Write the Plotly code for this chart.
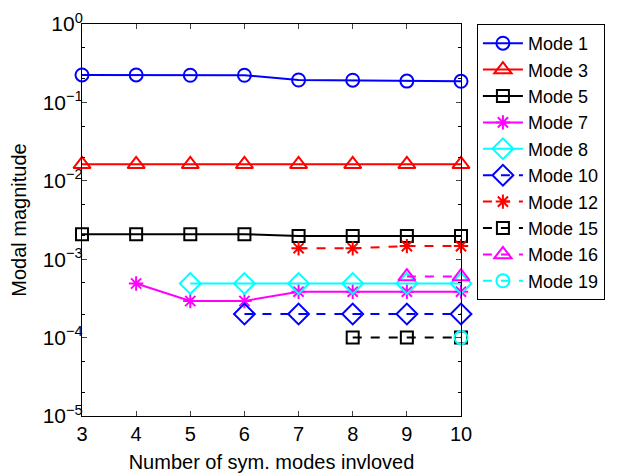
import plotly.graph_objects as go

x_all = [3, 4, 5, 6, 7, 8, 9, 10]

mode1 = [0.224, 0.224, 0.222, 0.222, 0.193, 0.192, 0.187, 0.186]
mode3 = [0.0162, 0.0162, 0.0162, 0.0162, 0.0162, 0.0162, 0.0162, 0.0162]
mode5 = [0.00208, 0.00208, 0.00208, 0.00208, 0.00198, 0.00198, 0.00198, 0.00198]
x7 = [4, 5, 6, 7, 8, 9, 10]
mode7 = [0.00049, 0.000293, 0.000293, 0.000385, 0.000385, 0.000385, 0.000385]
x8 = [5, 6, 7, 8, 9, 10]
mode8 = [0.00049, 0.00049, 0.00049, 0.00049, 0.00049, 0.00049]
x10 = [6, 7, 8, 9, 10]
mode10 = [0.0002, 0.0002, 0.0002, 0.0002, 0.0002]
x12 = [7, 8, 9, 10]
mode12 = [0.00138, 0.00138, 0.00147, 0.00147]
x15 = [8, 9, 10]
mode15 = [0.0001, 0.0001, 0.0001]
x16 = [9, 10]
mode16 = [0.0006, 0.0006]
x19 = [10]
mode19 = [0.0001]

series = [
    ("Mode 1", x_all, mode1, "blue", "solid", "circle-open", 13),
    ("Mode 3", x_all, mode3, "red", "solid", "triangle-up-open", 15),
    ("Mode 5", x_all, mode5, "black", "solid", "square-open", 12),
    ("Mode 7", x7, mode7, "magenta", "solid", "asterisk-open", 12),
    ("Mode 8", x8, mode8, "cyan", "solid", "diamond-open", 16),
    ("Mode 10", x10, mode10, "blue", "dash", "diamond-open", 16),
    ("Mode 12", x12, mode12, "red", "dash", "asterisk-open", 12),
    ("Mode 15", x15, mode15, "black", "dash", "square-open", 12),
    ("Mode 16", x16, mode16, "magenta", "dash", "triangle-up-open", 15),
    ("Mode 19", x19, mode19, "cyan", "dash", "circle-open", 13),
]

fig = go.Figure()
for name, xs, ys, color, dash, sym, size in series:
    fig.add_trace(go.Scatter(
        x=xs, y=ys, name=name, mode="lines+markers", cliponaxis=False,
        line=dict(color=color, width=2, dash=dash),
        marker=dict(symbol=sym, size=size, color=color,
                    line=dict(color=color, width=2)),
    ))

font = "Liberation Sans, Arial, sans-serif"
yt_vals = [1, 0.1, 0.01, 0.001, 0.0001, 0.00001]
yt_text = ["10<sup>0</sup>", "10<sup>−1</sup>", "10<sup>−2</sup>",
           "10<sup>−3</sup>", "10<sup>−4</sup>", "10<sup>−5</sup>"]

fig.update_layout(
    width=617, height=474,
    margin=dict(l=82, r=151, t=24, b=58),
    plot_bgcolor="white", paper_bgcolor="white",
    font=dict(family=font, size=18, color="black"),
    showlegend=True,
    legend=dict(x=1.042, y=1.0, xanchor="left", yanchor="top",
                bordercolor="black", borderwidth=1, maxheight=440,
                font=dict(size=18), itemwidth=40, tracegroupgap=0),
    xaxis=dict(range=[3, 10], tickvals=x_all, ticks="inside", ticklen=5,
               showline=True, linecolor="black", linewidth=1, mirror="allticks",
               showgrid=False, zeroline=False, automargin=False,
               title=dict(text="Number of sym. modes invloved", standoff=10,
                          font=dict(size=20)),
               tickfont=dict(size=20)),
    yaxis=dict(type="log", range=[-5, 0], tickvals=yt_vals, ticktext=yt_text,
               ticks="inside", ticklen=5, ticklabelstandoff=-6,
               showline=True, linecolor="black", linewidth=1, mirror="allticks",
               showgrid=False, zeroline=False, automargin=False,
               minor=dict(ticks="inside", ticklen=3, tickcolor="black", showgrid=False),
               title=dict(text="Modal magnitude", standoff=10, font=dict(size=20)),
               tickfont=dict(size=21)),
)

fig.write_html("out.html")
